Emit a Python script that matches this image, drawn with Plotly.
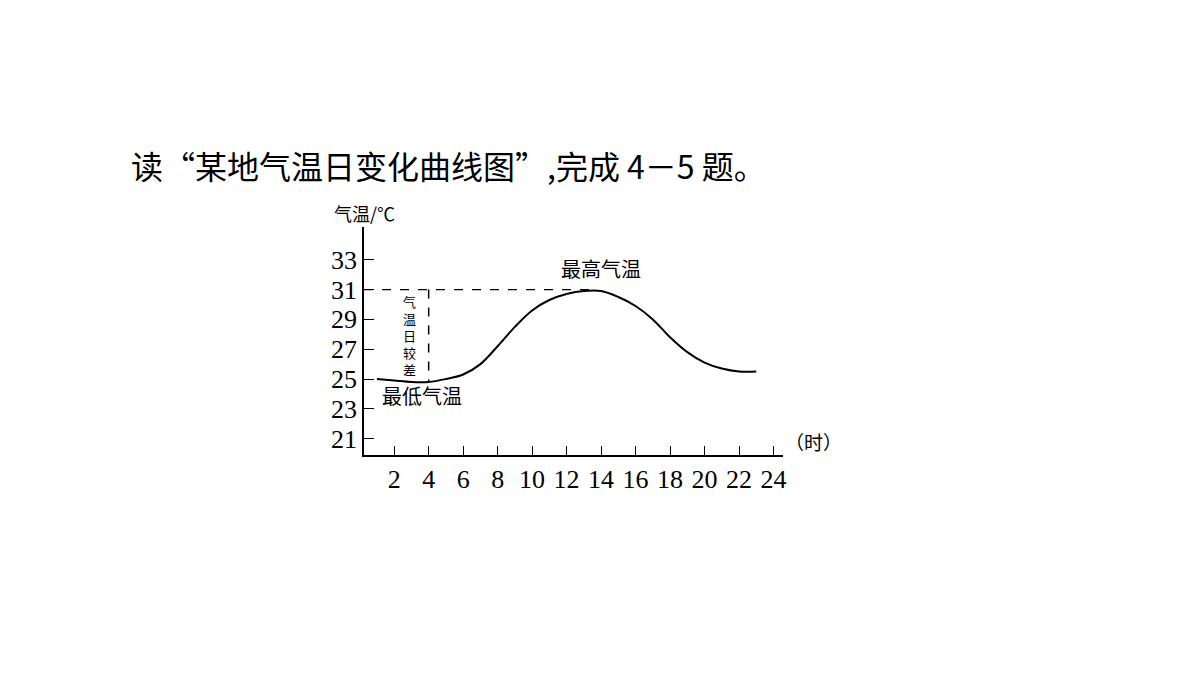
import plotly.graph_objects as go

hours = list(range(1, 24))
temps = [25.0, 24.9, 24.8, 24.8, 25.0, 25.3, 26.0, 27.2, 28.5, 29.6, 30.3, 30.7, 30.9,
         30.9, 30.5, 29.9, 29.0, 27.8, 26.8, 26.1, 25.7, 25.5, 25.5]
x_ticks = list(range(2, 25, 2))
x_labels = ["2", "4", "6", "8", "10", "12", "14", "16", "18", "20", "22", "24"]
y_ticks = [21, 23, 25, 27, 29, 31, 33]

CJK = "Noto Sans CJK SC"
SERIF = "Liberation Serif"

fig = go.Figure()
fig.add_trace(go.Scatter(x=hours, y=temps, mode="lines",
                         line=dict(color="black", width=2, shape="spline"),
                         showlegend=False, hoverinfo="skip"))
# max temperature guide
fig.add_trace(go.Scatter(x=[0.25, 13.5], y=[31, 31], mode="lines",
                         line=dict(color="black", width=1.3, dash="dash"),
                         showlegend=False, hoverinfo="skip"))
# daily range guide
fig.add_trace(go.Scatter(x=[4, 4], y=[31, 24.8], mode="lines",
                         line=dict(color="black", width=1.5, dash="dash"),
                         showlegend=False, hoverinfo="skip"))

fig.update_xaxes(range=[0.25, 24.55], tickvals=x_ticks, ticktext=x_labels,
                 ticks="inside", ticklen=9, tickcolor="black", showline=True,
                 linecolor="black", linewidth=1.5, showgrid=False, zeroline=False,
                 automargin=False,
                 tickfont=dict(family=SERIF, size=26, color="black"))
fig.update_yaxes(range=[19.9, 35.2], tickvals=y_ticks, ticks="inside", ticklen=10,
                 tickcolor="black", showline=True, linecolor="black", linewidth=1.5,
                 showgrid=False, zeroline=False, automargin=False,
                 tickfont=dict(family=SERIF, size=26, color="black"))

fig.add_annotation(x=-0.56, y=1.27, xref="paper", yref="paper",
                   text="读“某地气温日变化曲线图”,完成 4－5 题。", showarrow=False,
                   xanchor="left", yanchor="middle",
                   font=dict(family=CJK, size=32, color="black"))
fig.add_annotation(x=0.0, y=1.06, xref="paper", yref="paper", text="气温/℃",
                   showarrow=False, xanchor="center", yanchor="middle",
                   font=dict(family=CJK, size=18, color="black"))
fig.add_annotation(x=1.0, y=0.06, xref="paper", yref="paper", text="（时）",
                   showarrow=False, xanchor="left", yanchor="middle",
                   font=dict(family=CJK, size=19, color="black"))
fig.add_annotation(x=14, y=31.3, xref="x", yref="y", text="最高气温", showarrow=False,
                   xanchor="center", yanchor="bottom",
                   font=dict(family=CJK, size=20, color="black"))
fig.add_annotation(x=3.6, y=23.9, xref="x", yref="y", text="最低气温", showarrow=False,
                   xanchor="center", yanchor="middle",
                   font=dict(family=CJK, size=20, color="black"))
fig.add_annotation(x=2.9, y=27.9, xref="x", yref="y", text="气<br>温<br>日<br>较<br>差",
                   showarrow=False, xanchor="center", yanchor="middle",
                   font=dict(family=CJK, size=13, color="black"))

fig.update_layout(width=1200, height=675, plot_bgcolor="white", paper_bgcolor="white",
                  margin=dict(l=356, r=425, t=219, b=228))
fig.write_html("out.html")
